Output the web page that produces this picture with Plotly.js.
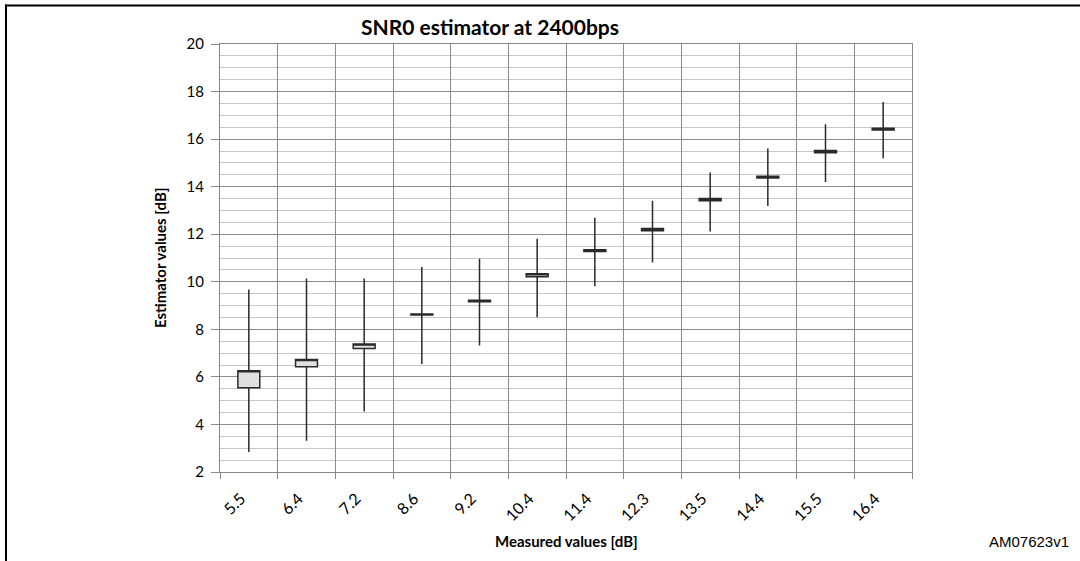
<!DOCTYPE html>
<html>
<head>
<meta charset="utf-8">
<script src="https://cdn.plot.ly/plotly-3.0.1.min.js"></script>
<style>
  html, body { margin: 0; padding: 0; background: #fff; }
  #chart { width: 1080px; height: 561px; }
</style>
</head>
<body>
<div id="chart"></div>
<script>
// Category labels (measured SNR values, dB)
const categories = ["5.5", "6.4", "7.2", "8.6", "9.2", "10.4", "11.4", "12.3", "13.5", "14.4", "15.5", "16.4"];
// Estimator statistics (dB)
const minValues  = [2.84, 3.31, 4.54, 6.54, 7.32, 8.51, 9.81, 10.81, 12.11, 13.19, 14.20, 15.20];
const q1Values   = [5.54, 6.43, 7.19, 8.60, 9.16, 10.21, 11.27, 12.15, 13.41, 14.36, 15.43, 16.38];
const q3Values   = [6.26, 6.73, 7.38, 8.64, 9.22, 10.34, 11.35, 12.24, 13.50, 14.44, 15.52, 16.46];
const maxValues  = [9.68, 10.14, 10.14, 10.62, 10.97, 11.81, 12.69, 13.41, 14.60, 15.61, 16.62, 17.56];

const L = 220, R = 912, T = 44, B = 472, W = 1080, H = 561;
const px = x => (x - L) / (R - L);
const py = y => (B - y) / (B - T);

const trace = {
  type: "box",
  x: categories,
  q1: q1Values,
  median: q3Values,
  q3: q3Values,
  lowerfence: minValues,
  upperfence: maxValues,
  boxpoints: false,
  whiskerwidth: 0,
  width: 0.38,
  fillcolor: "#e0e0e0",
  line: { color: "#2a2a2a", width: 1.5 },
  hoverinfo: "skip",
  showlegend: false
};

const font = "Lato, 'Open Sans', sans-serif";

const layout = {
  width: W, height: H,
  margin: { l: L, r: W - R, t: T, b: H - B, pad: 0 },
  paper_bgcolor: "#fff",
  plot_bgcolor: "#fff",
  title: {
    text: "<b>SNR0 estimator at 2400bps</b>",
    x: 490 / W, xref: "container", xanchor: "center",
    y: 1 - 28 / H, yref: "container", yanchor: "middle",
    font: { family: font, size: 21, color: "#000" }
  },
  xaxis: {
    type: "category",
    range: [-0.5, categories.length - 0.5],
    tickson: "boundaries",
    ticks: "outside", ticklen: 6, tickcolor: "#888", tickwidth: 1,
    showgrid: true, gridcolor: "#8c8c8c", gridwidth: 1,
    showline: true, linecolor: "#888", linewidth: 1, mirror: true,
    tickangle: -45,
    ticklabelstandoff: 10,
    ticklabelshift: -8,
    tickfont: { family: font, size: 16, color: "#000" },
    fixedrange: true
  },
  yaxis: {
    range: [2, 20], dtick: 2, tick0: 0,
    ticks: "outside", ticklen: 8, tickcolor: "#888", tickwidth: 1,
    showgrid: true, gridcolor: "#8c8c8c", gridwidth: 1,
    minor: { dtick: 0.5, showgrid: true, gridcolor: "#c8c8c8", gridwidth: 1, ticks: "" },
    showline: true, linecolor: "#888", linewidth: 1, mirror: true,
    zeroline: false,
    tickfont: { family: font, size: 15, color: "#000" },
    ticklabelstandoff: 4,
    fixedrange: true
  },
  annotations: [
    { text: "<b>Measured values [dB]</b>", xref: "paper", yref: "paper",
      x: 0.5, y: py(541), xanchor: "center", yanchor: "middle", showarrow: false,
      font: { family: font, size: 15, color: "#000" } },
    { text: "<b>Estimator values [dB]</b>", xref: "paper", yref: "paper",
      x: px(160), y: py(258), xanchor: "center", yanchor: "middle", showarrow: false,
      textangle: -90, font: { family: font, size: 15, color: "#000" } },
    { text: "AM07623v1", xref: "paper", yref: "paper",
      x: px(1029), y: py(541), xanchor: "center", yanchor: "middle", showarrow: false,
      font: { family: "'Liberation Sans', Arial, sans-serif", size: 15, color: "#000" } }
  ],
  shapes: [
    { type: "line", xref: "paper", yref: "paper", x0: px(5), x1: px(1080), y0: py(5.5), y1: py(5.5),
      line: { color: "#000", width: 2 } },
    { type: "line", xref: "paper", yref: "paper", x0: px(6), x1: px(6), y0: py(4.5), y1: py(561),
      line: { color: "#000", width: 2 } }
  ]
};

Plotly.newPlot("chart", [trace], layout, { staticPlot: true, displayModeBar: false });
</script>
</body>
</html>
